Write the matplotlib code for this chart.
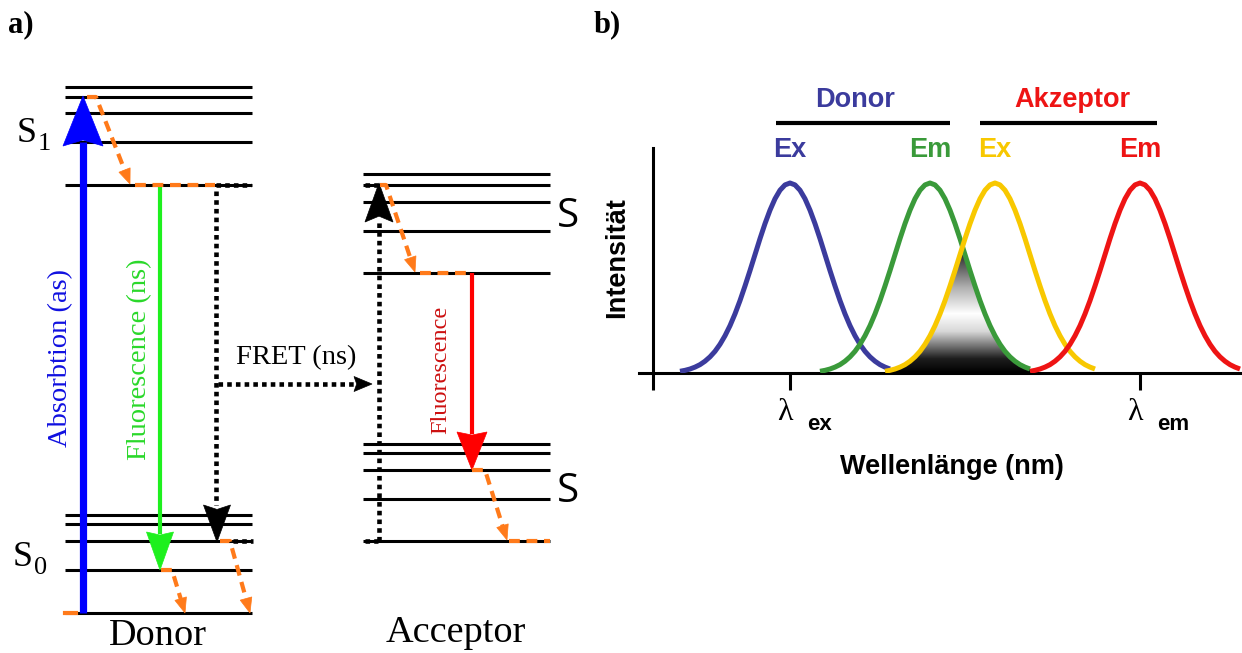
import numpy as np
import matplotlib
matplotlib.use("Agg")
import matplotlib.pyplot as plt
from matplotlib.patches import Polygon
from matplotlib.colors import LinearSegmentedColormap

# ---------------- data: panel a (energy levels, pixel-like energy scale) -------------
donor_S1_levels = [87, 97, 113, 142, 185]
donor_S0_levels = [515, 524, 541, 570, 613]
acceptor_S1_levels = [174, 185, 202, 231, 273]
acceptor_S0_levels = [444, 453, 470, 499, 541]
donor_span = [65, 252]
acceptor_span = [363, 550]

# ---------------- data: panel b (spectra) -------------
peak_positions = [790, 930, 995, 1140]          # Donor Ex, Donor Em, Akzeptor Ex, Akzeptor Em
peak_labels = ["Ex", "Em", "Ex", "Em"]
profile_offsets = [-110, -105, -100, -95, -90, -85, -80, -75, -70, -65, -60, -55, -50, -45,
                   -40, -35, -30, -25, -20, -15, -10, -5, 0, 5, 10, 15, 20, 25, 30, 35, 40,
                   45, 50, 55, 60, 65, 70, 75, 80, 85, 90, 95, 100]
profile_heights = [0.009, 0.014, 0.021, 0.031, 0.044, 0.062, 0.085, 0.114, 0.151, 0.196,
                   0.249, 0.311, 0.381, 0.458, 0.539, 0.623, 0.707, 0.786, 0.857, 0.917,
                   0.962, 0.990, 1.000, 0.990, 0.962, 0.917, 0.857, 0.786, 0.707, 0.623,
                   0.539, 0.458, 0.381, 0.311, 0.249, 0.196, 0.151, 0.114, 0.085, 0.062,
                   0.044, 0.031, 0.021]
lambda_ticks = [790, 1140]
lambda_labels = ["ex", "em"]

# colours
C_BLUE_A = "#0000ff"
C_GREEN_A = "#1ef01e"
C_RED_A = "#ff0000"
C_ORANGE = "#ff7a1a"
spec_colors = ["#3b3b9d", "#3a9a3a", "#f8c800", "#ee1414"]
serif = "Liberation Serif"
sans = "Liberation Sans"

fig = plt.figure(figsize=(12.42, 6.53), dpi=100)
ax = fig.add_axes([0, 0, 1, 1])
ax.set_xlim(0, 1242)
ax.set_ylim(653, 0)
ax.axis("off")


def head(tip, direction, length, width, color, notch=0.0, z=5):
    tip = np.asarray(tip, float)
    d = np.asarray(direction, float)
    d = d / np.hypot(*d)
    n = np.array([-d[1], d[0]])
    back = tip - d * length
    pts = [tip, back + n * width / 2, tip - d * length * (1 - notch), back - n * width / 2]
    ax.add_patch(Polygon(pts, closed=True, facecolor=color, edgecolor=color, lw=0.5, zorder=z))


def dashed_arrow(points, color=C_ORANGE, hl=15, hw=12, arrow=True):
    pts = np.asarray(points, float)
    if arrow:
        d = pts[-1] - pts[-2]
        d = d / np.hypot(*d)
        line_pts = pts.copy()
        line_pts[-1] = pts[-1] - d * hl * 0.9
        ax.plot(line_pts[:, 0], line_pts[:, 1], color=color, lw=3.0,
                linestyle=(0, (2.6, 1.6)), dash_capstyle="butt", zorder=6)
        head(pts[-1], d, hl, hw, color, z=6)
    else:
        ax.plot(pts[:, 0], pts[:, 1], color=color, lw=3.0,
                linestyle=(0, (2.6, 1.6)), dash_capstyle="butt", zorder=6)


def dotted(points, z=4):
    pts = np.asarray(points, float)
    ax.plot(pts[:, 0], pts[:, 1], color="black", lw=3.3,
            linestyle=(0, (1, 0.9)), dash_capstyle="butt", zorder=z)


# energy levels
for lv in donor_S1_levels + donor_S0_levels:
    ax.plot(donor_span, [lv, lv], color="black", lw=2.2, solid_capstyle="butt", zorder=2)
for lv in acceptor_S1_levels + acceptor_S0_levels:
    ax.plot(acceptor_span, [lv, lv], color="black", lw=2.2, solid_capstyle="butt", zorder=2)

# absorption (blue)
ax.plot([83, 83], [donor_S0_levels[-1], donor_S1_levels[1] + 45], color=C_BLUE_A, lw=5.2,
        solid_capstyle="butt", zorder=5)
head((83, donor_S1_levels[1] - 1), (0, -1), 50, 40, C_BLUE_A, notch=0.12)
ax.plot([65, 76], [donor_S0_levels[-1]] * 2, color=C_ORANGE, lw=3.0, zorder=6)

# vibrational relaxation donor S1
dashed_arrow([(87, donor_S1_levels[1]), (96, donor_S1_levels[1]), (130, donor_S1_levels[-1] - 1)])
dashed_arrow([(135, donor_S1_levels[-1]), (215, donor_S1_levels[-1])], arrow=False)
dotted([(216, donor_S1_levels[-1]), (251, donor_S1_levels[-1])])

# fluorescence donor (green)
ax.plot([160, 160], [donor_S1_levels[-1], donor_S0_levels[3] - 36], color=C_GREEN_A, lw=3.0,
        solid_capstyle="butt", zorder=5)
head((160, donor_S0_levels[3]), (0, 1), 38, 27, C_GREEN_A, notch=0.08)
dashed_arrow([(161, donor_S0_levels[3]), (172, donor_S0_levels[3]), (185, donor_S0_levels[-1])])

# FRET path donor
dotted([(216, donor_S1_levels[-1] + 6), (216, donor_S0_levels[2] - 36)])
head((217, donor_S0_levels[2] + 1), (0, 1), 37, 27, "black", notch=0.12)
dashed_arrow([(220, donor_S0_levels[2]), (230, donor_S0_levels[2]), (250, donor_S0_levels[-1])])
dotted([(233, donor_S0_levels[2]), (253, donor_S0_levels[2])])

# FRET horizontal
dotted([(218, 384), (356, 384)])
head((372, 384), (1, 0), 18, 15, "black", notch=0.15)
ax.text(296, 358, "FRET (ns)", family=serif, fontsize=20.5, ha="center", va="center")

# acceptor excitation
dotted([(379, acceptor_S0_levels[-1]), (379, acceptor_S1_levels[1] + 36)])
head((379, acceptor_S1_levels[1] - 2), (0, -1), 39, 28, "black", notch=0.15)
dotted([(365, acceptor_S1_levels[1]), (378, acceptor_S1_levels[1])])
dotted([(365, acceptor_S0_levels[-1]), (378, acceptor_S0_levels[-1])])
dashed_arrow([(380, acceptor_S1_levels[1]), (386, acceptor_S1_levels[1]), (415, acceptor_S1_levels[-1] - 1)])
dashed_arrow([(420, acceptor_S1_levels[-1]), (467, acceptor_S1_levels[-1])], arrow=False)

# acceptor fluorescence (red)
ax.plot([472, 472], [acceptor_S1_levels[-1], acceptor_S0_levels[2] - 36], color=C_RED_A, lw=3.0,
        solid_capstyle="butt", zorder=5)
head((472, acceptor_S0_levels[2]), (0, 1), 38, 30, C_RED_A, notch=0.08)
dashed_arrow([(472, acceptor_S0_levels[2]), (485, acceptor_S0_levels[2]), (507, acceptor_S0_levels[-1] - 1)])
dashed_arrow([(509, acceptor_S0_levels[-1]), (550, acceptor_S0_levels[-1])], arrow=False)

# panel a texts
ax.text(61, 358, "Absorbtion (as)", family=serif, fontsize=20.5, color="#1010e0",
        rotation=90, ha="center", va="center")
ax.text(140, 359, "Fluorescence (ns)", family=serif, fontsize=20.5, color="#2ad82a",
        rotation=90, ha="center", va="center")
ax.text(441, 370, "Fluorescence", family=serif, fontsize=17.5, color="#cc1010",
        rotation=90, ha="center", va="center")
ax.text(27, 134, "S", family=serif, fontsize=26, ha="center", va="center")
ax.text(44, 144, "1", family=serif, fontsize=19, ha="center", va="center")
ax.text(23, 558, "S", family=serif, fontsize=26, ha="center", va="center")
ax.text(41, 568, "0", family=serif, fontsize=19, ha="center", va="center")
ax.text(568, 217, "S", family="Open Sans", fontsize=29, ha="center", va="center")
ax.text(568, 492, "S", family="Open Sans", fontsize=29, ha="center", va="center")
ax.text(158, 636, "Donor", family=serif, fontsize=27.5, ha="center", va="center")
ax.text(456, 633, "Acceptor", family=serif, fontsize=27.5, ha="center", va="center")
ax.text(8, 25, "a)", family=serif, fontweight="bold", fontsize=22, ha="left", va="center")
ax.text(594, 25, "b)", family=serif, fontweight="bold", fontsize=22, ha="left", va="center")

# ---------------- panel b ----------------
x0, x1 = 639, 1242
ybase, ytop = 373, 148
unit = 190.0
axb = fig.add_axes([x0 / 1242, (653 - ybase) / 653, (x1 - x0) / 1242, (ybase - ytop) / 653])
axb.patch.set_visible(False)

offs = np.array(profile_offsets)
hts = np.array(profile_heights)
curves = []
for pk, col in zip(peak_positions, spec_colors):
    xs = pk + offs
    curves.append((xs, hts))
    axb.plot(xs, hts, color=col, lw=3.6, solid_capstyle="butt", zorder=4)

# overlap region (donor emission x acceptor excitation)
gx, gy = curves[1]
yx, yy = curves[2]
common = np.intersect1d(gx, yx)
ov = np.minimum(gy[np.isin(gx, common)], yy[np.isin(yx, common)])
poly = axb.fill_between(common, 0, ov, color="none", lw=0)
cmap = LinearSegmentedColormap.from_list(
    "ov", [(0.0, "#000000"), (0.12, "#1e1e1e"), (0.35, "#d8d8d8"), (0.5, "#ffffff"),
           (0.72, "#b0b0b0"), (1.0, "#2e2e2e")])
grad = np.linspace(0, 1, 256).reshape(-1, 1)
im = axb.imshow(grad, extent=[common.min(), common.max(), 0, ov.max()], origin="lower",
                aspect="auto", cmap=cmap, zorder=2)
im.set_clip_path(poly.get_paths()[0], transform=axb.transData)

axb.set_xlim(x0, x1)
axb.set_ylim(0, (ybase - ytop) / unit)
for s in ["top", "right"]:
    axb.spines[s].set_visible(False)
axb.spines["left"].set_position(("data", 653))
axb.spines["left"].set_linewidth(2.2)
axb.spines["bottom"].set_linewidth(2.2)
axb.set_yticks([])
axb.set_xticks([653] + lambda_ticks)
axb.set_xticklabels([])
axb.tick_params(axis="x", direction="out", length=12, width=2.2)

for t, lab in zip(lambda_ticks, lambda_labels):
    ax.text(t - 5, 413, "λ", family=serif, fontsize=23, ha="center", va="center")
    ax.text(t + 17, 424, lab, family=sans, fontweight="bold", fontsize=16, ha="left", va="center")

ax.text(617, 258, "Intensität", family=sans, fontweight="bold", fontsize=19.5,
        rotation=90, ha="center", va="center")
ax.text(952, 467, "Wellenlänge (nm)", family=sans, fontweight="bold", fontsize=19.5,
        ha="center", va="center")

for pk, lab, col in zip(peak_positions, peak_labels, spec_colors):
    ax.text(pk, 150, lab, family=sans, fontweight="bold", fontsize=19.5, color=col,
            ha="center", va="center")

ax.text(855, 100, "Donor", family=sans, fontweight="bold", fontsize=19.5, color=spec_colors[0],
        ha="center", va="center")
ax.text(1072, 100, "Akzeptor", family=sans, fontweight="bold", fontsize=19.5, color=spec_colors[3],
        ha="center", va="center")
ax.plot([776, 950], [123, 123], color="black", lw=3.0, solid_capstyle="butt")
ax.plot([980, 1157], [123, 123], color="black", lw=3.0, solid_capstyle="butt")

fig.savefig("out.png", dpi=100)
